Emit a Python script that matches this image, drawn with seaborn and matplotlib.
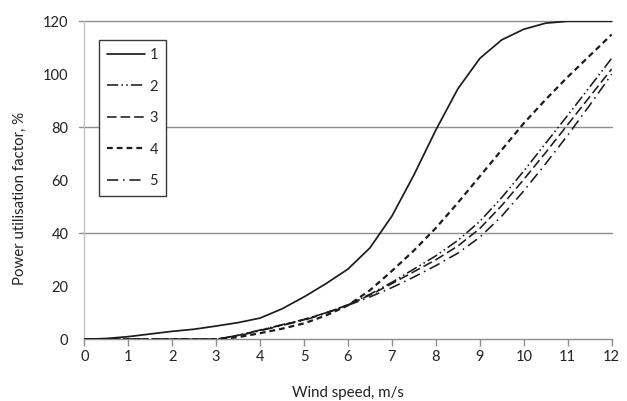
import numpy as np
import pandas as pd
import seaborn as sns
import matplotlib
matplotlib.use("Agg")
import matplotlib.pyplot as plt

# Wind speed grid, m/s
speed = [0, 0.5, 1, 1.5, 2, 2.5, 3, 3.5, 4, 4.5, 5, 5.5, 6, 6.5, 7, 7.5,
         8, 8.5, 9, 9.5, 10, 10.5, 11, 11.5, 12]

# Power utilisation factor, % for each configuration
factor_1 = [0, 0.3, 1, 2, 3, 3.8, 5, 6.3, 8, 11.5, 16, 21, 26.5, 34.5, 46.5,
            62, 79, 94.5, 106, 113, 117, 119.3, 120, 120, 120]
factor_2 = [0, 0, 0, 0, 0, 0, 0, 1.5, 3.5, 5.5, 7.5, 10, 13, 17, 21.5, 26.5,
            31.5, 37.3, 44.5, 53.5, 63.5, 74, 84.5, 95.2, 106]
factor_3 = [0, 0, 0, 0, 0, 0, 0, 1.5, 3.4, 5.4, 7.4, 10, 13, 16.7, 21, 25.5,
            30, 35.2, 41.8, 50.5, 60.3, 70.5, 81, 91.5, 102]
factor_4 = [0, 0, 0, 0, 0, 0, 0, 0.8, 2.3, 4, 6, 9, 12.8, 18.5, 25.8, 33.5,
            42, 51.5, 61.5, 71.5, 81.5, 90.5, 99, 107, 115]
factor_5 = [0, 0, 0, 0, 0, 0, 0, 1.3, 3.2, 5.2, 7.2, 9.8, 12.8, 16, 19.5, 23.5,
            27.8, 32.5, 38.5, 46.5, 56, 66.3, 77, 88.3, 100]

series_labels = ["1", "2", "3", "4", "5"]
x_ticks = list(range(0, 13))
y_ticks = list(range(0, 121, 20))
grid_levels = [40, 80, 120]

sns.set_theme(style="white")
plt.rcParams["font.family"] = ["Lato", "DejaVu Sans"]

fig = plt.figure(figsize=(6.27, 4.01), dpi=100)
ax = fig.add_axes([0.1345, 0.1539, 0.841, 0.793])

line_color = "#1c1c1c"
styles = {
    "1": dict(linestyle="-", lw=1.25),
    "2": dict(linestyle=(0, (7, 2, 1, 2, 1, 2)), lw=1.15),
    "3": dict(linestyle=(0, (6, 2.5)), lw=1.15),
    "4": dict(linestyle=(0, (2.6, 1.8)), lw=1.6),
    "5": dict(linestyle=(0, (7, 3, 1, 3)), lw=1.15),
}

for lab, vals in zip(series_labels,
                     [factor_1, factor_2, factor_3, factor_4, factor_5]):
    df = pd.DataFrame({"speed": speed, "factor": vals})
    sns.lineplot(data=df, x="speed", y="factor", ax=ax, color=line_color,
                 label=lab, zorder=3, **styles[lab])

# horizontal gridlines, extending a little past the axis on the left
for g in grid_levels:
    ax.axhline(g, xmin=-0.0095, xmax=1, color="#8e8e8e", lw=1.0,
               zorder=1, clip_on=False)

ax.set_xlim(0, 12)
ax.set_ylim(0, 120)
ax.set_xticks(x_ticks)
ax.set_yticks(y_ticks)
ax.tick_params(axis="x", direction="out", length=5, width=1, color="#8e8e8e",
               pad=3, labelsize=10.5, labelcolor="#222222", bottom=True)
ax.tick_params(axis="y", length=0, pad=11.5, labelsize=10.5,
               labelcolor="#222222")

for side in ["top", "right"]:
    ax.spines[side].set_visible(False)
ax.spines["bottom"].set_color("#8e8e8e")
ax.spines["bottom"].set_linewidth(1.0)
ax.spines["left"].set_color("#c4c4c4")
ax.spines["left"].set_linewidth(1.0)

ax.set_xlabel("Wind speed, m/s", fontsize=10.8, color="#222222")
ax.set_ylabel("Power utilisation factor, %", fontsize=10.8, color="#222222")
ax.xaxis.set_label_coords(0.5, -0.147)
ax.yaxis.set_label_coords(-0.109, 0.444)

leg = ax.legend(loc="upper left", bbox_to_anchor=(0.028, 0.941),
                frameon=True, fancybox=False, fontsize=10.5,
                handlelength=2.6, handletextpad=0.3, labelspacing=1.2,
                borderpad=0.55, borderaxespad=0)
frame = leg.get_frame()
frame.set_edgecolor("#3a3a3a")
frame.set_linewidth(1.0)
frame.set_facecolor("white")
frame.set_alpha(1)
leg.set_zorder(5)

fig.savefig("out.png", dpi=100)
